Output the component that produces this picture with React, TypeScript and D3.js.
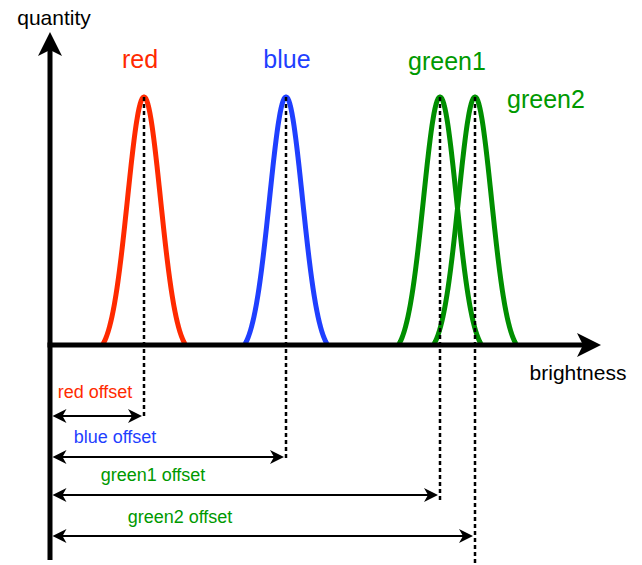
import React from "react";
import * as d3 from "d3";

// Data
const channels = ["red", "blue", "green1", "green2"];
const peakBrightness = [18.8, 47.2, 78, 85];
const offsetLabels = ["red offset", "blue offset", "green1 offset", "green2 offset"];
const axisLabels = ["quantity", "brightness"];

const W = 642;
const H = 565;
const COLORS: Record<string, string> = {
  red: "#ff2a00",
  blue: "#1f3fff",
  green1: "#008f00",
  green2: "#008f00",
};
const TEXT_COLORS: Record<string, string> = {
  red: "#ff2a00",
  blue: "#1f3fff",
  green1: "#009900",
  green2: "#009900",
};

const FONT = "'Liberation Sans', Arial, sans-serif";

export default function App() {
  const x = d3.scaleLinear().domain([0, 110]).range([50, 600]);
  const y = d3.scaleLinear().domain([0, 1]).range([345, 97]);
  const sigma = 3.3;
  const half = 8.3;
  const g0 = Math.exp(-(half * half) / (2 * sigma * sigma));
  const shape = (d: number) => (Math.exp(-(d * d) / (2 * sigma * sigma)) - g0) / (1 - g0);

  const curvePath = (p: number) => {
    const pts: [number, number][] = d3
      .range(-half, half + 0.0001, 0.1)
      .map((d) => [x(p + d), y(shape(d))] as [number, number]);
    return d3.line()(pts) as string;
  };

  const layout = [
    { ay: 416, lx: 95, ly: 398, dy: 419, px: 140, py: 68 },
    { ay: 457, lx: 115, ly: 443, dy: 460, px: 287, py: 68 },
    { ay: 495, lx: 153, ly: 481, dy: 502, px: 447, py: 70 },
    { ay: 536, lx: 180, ly: 523, dy: 565, px: 546, py: 108 },
  ];

  const x0 = x(0);
  const yBase = y(0);

  const leftHead = (tx: number, ty: number) =>
    `M${tx},${ty} L${tx + 14},${ty - 7} L${tx + 10},${ty} L${tx + 14},${ty + 7} Z`;
  const rightHead = (tx: number, ty: number) =>
    `M${tx},${ty} L${tx - 14},${ty - 7} L${tx - 10},${ty} L${tx - 14},${ty + 7} Z`;

  return (
    <svg
      width={W}
      height={H}
      style={{ position: "absolute", left: 0, top: 0, background: "#fff" }}
      fontFamily={FONT}
    >
      <rect width={W} height={H} fill="#fff" />
      {channels.map((c, i) => (
        <path
          key={c}
          d={curvePath(peakBrightness[i])}
          fill="none"
          stroke={COLORS[c]}
          strokeWidth={5}
          strokeLinejoin="round"
        />
      ))}
      {channels.map((c, i) => (
        <line
          key={c + "-dash"}
          x1={x(peakBrightness[i])}
          x2={x(peakBrightness[i])}
          y1={y(1)}
          y2={layout[i].dy}
          stroke="#000"
          strokeWidth={2.5}
          strokeDasharray="4,3"
        />
      ))}
      <line x1={x0 - 2.5} x2={x(110) - 15} y1={yBase} y2={yBase} stroke="#000" strokeWidth={5} />
      <path
        d={`M${x(110) + 1},${yBase} L${x(110) - 23},${yBase - 12} L${x(110) - 17},${yBase} L${x(110) - 23},${yBase + 12} Z`}
        fill="#000"
      />
      <line x1={x0} x2={x0} y1={560} y2={48} stroke="#000" strokeWidth={5} />
      <path d={`M${x0},32 L${x0 - 12},56 L${x0},50 L${x0 + 12},56 Z`} fill="#000" />
      <text x={54} y={25} fontSize={21} textAnchor="middle" fill="#000">
        {axisLabels[0]}
      </text>
      <text x={578} y={380} fontSize={21} textAnchor="middle" fill="#000">
        {axisLabels[1]}
      </text>
      {channels.map((c, i) => (
        <text
          key={c + "-lbl"}
          x={layout[i].px}
          y={layout[i].py}
          fontSize={25}
          textAnchor="middle"
          fill={TEXT_COLORS[c]}
        >
          {c}
        </text>
      ))}
      {channels.map((c, i) => {
        const ay = layout[i].ay;
        const xs = x0 + 2.5;
        const xe = x(peakBrightness[i]) - 2;
        return (
          <g key={c + "-arr"}>
            <line x1={xs + 6} x2={xe - 6} y1={ay} y2={ay} stroke="#000" strokeWidth={2} />
            <path d={leftHead(xs, ay)} fill="#000" />
            <path d={rightHead(xe, ay)} fill="#000" />
            <text
              x={layout[i].lx}
              y={layout[i].ly}
              fontSize={18}
              textAnchor="middle"
              fill={TEXT_COLORS[c]}
            >
              {offsetLabels[i]}
            </text>
          </g>
        );
      })}
    </svg>
  );
}
